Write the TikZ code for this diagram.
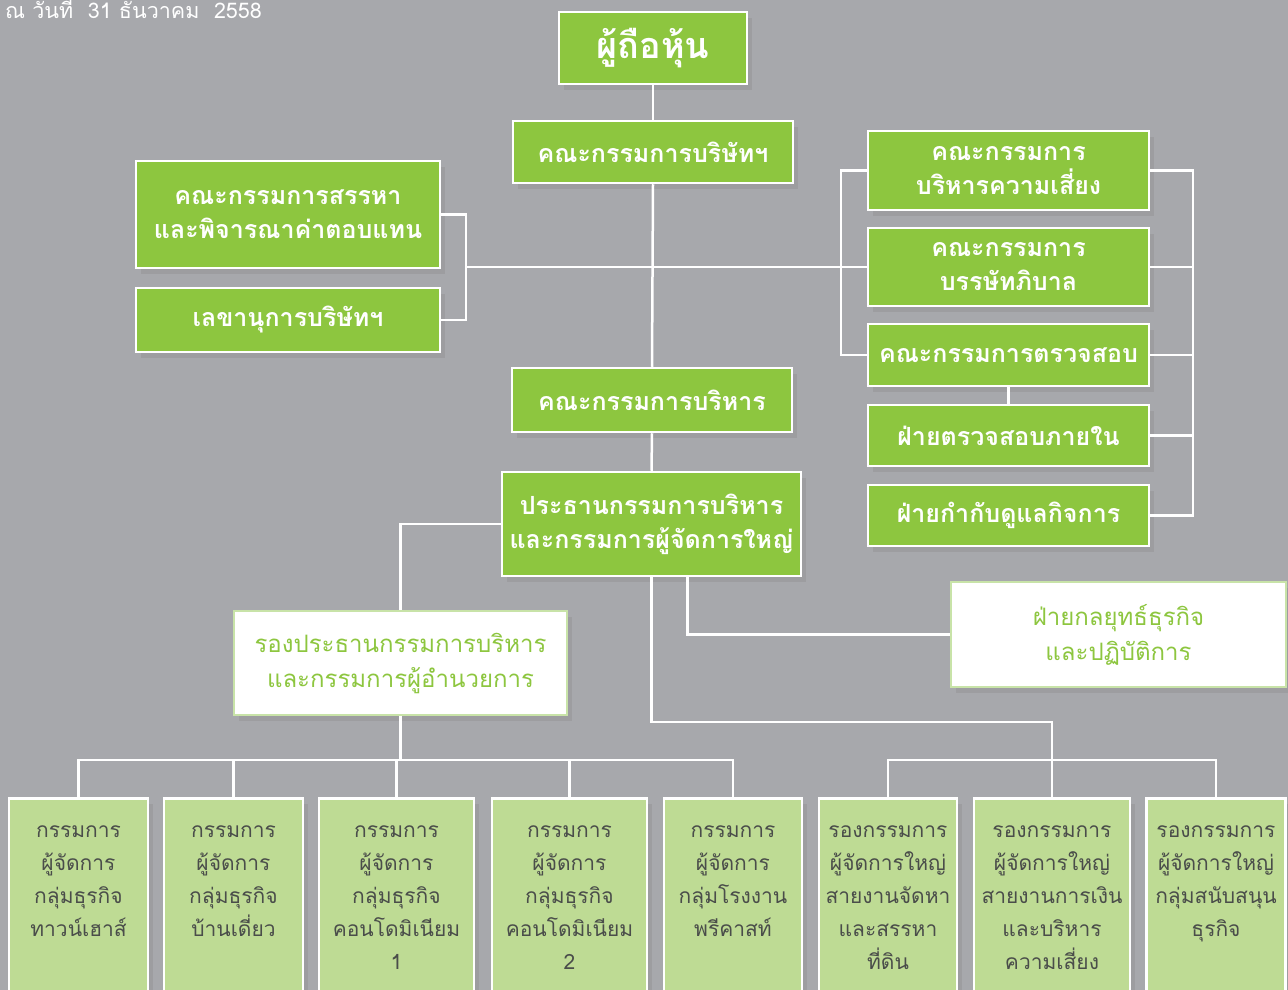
\documentclass[tikz,border=0pt]{standalone}
\usepackage{fontspec}
\usepackage{xcolor}
\usepackage{tikz}
\usetikzlibrary{shadows}
\newfontfamily\thaifont[Script=Thai]{Loma}
\definecolor{bggrey}{HTML}{A7A8AC}
\definecolor{boxgreen}{HTML}{8DC63F}
\definecolor{lowgreen}{HTML}{BEDB94}
\definecolor{edgegreen}{HTML}{C8E3A8}
\definecolor{textgrey}{HTML}{4A4D4A}

\begin{document}
\begin{tikzpicture}[x=1pt, y=-1pt,
% common options for the green boxes:
greenbox/.style = {draw=white, line width=2.5pt, fill=boxgreen, text=white, align=center,
            font=\thaifont\bfseries\fontsize{25}{34}\selectfont, inner sep=0,
            drop shadow={shadow xshift=5pt, shadow yshift=-6pt, opacity=0.25}},
% common options for the white boxes:
whitebox/.style = {draw=edgegreen, line width=2.5pt, fill=white, text=boxgreen, align=center,
            font=\thaifont\fontsize{24}{35}\selectfont, inner sep=0,
            drop shadow={shadow xshift=5pt, shadow yshift=-6pt, opacity=0.25}},
% common options for the boxes at the bottom:
lowbox/.style = {draw=white, line width=2.5pt, fill=lowgreen, text=textgrey, align=center,
            font=\thaifont\fontsize{21}{33}\selectfont, anchor=north, inner xsep=0,
            inner ysep=27pt, text depth=220pt,
            drop shadow={shadow xshift=5pt, shadow yshift=-6pt, opacity=0.25}},
wire/.style = {draw=white, line width=2.5pt}]
\useasboundingbox (0,0) rectangle (1288,990);
\fill[bggrey] (0,0) rectangle (1288,990);
\node[anchor=base west, text=white, inner sep=0, font=\thaifont\fontsize{21.5}{26}\selectfont] (T0) at (5,19) {ณ วันที่ \ 31 ธันวาคม \ 2558};
% middle column
\node[greenbox, minimum width=188pt, minimum height=72pt, font=\thaifont\bfseries\fontsize{36}{40}\selectfont] (M0) at (653,48) {ผู้ถือหุ้น};
\node[greenbox, minimum width=280pt, minimum height=62pt] (M1) at (653,152) {คณะกรรมการบริษัทฯ};
\node[greenbox, minimum width=280pt, minimum height=64pt] (M2) at (652,400) {คณะกรรมการบริหาร};
\node[greenbox, minimum width=299pt, minimum height=104pt] (M3) at (651.5,524) {ประธานกรรมการบริหาร\\และกรรมการผู้จัดการใหญ่};
% left side
\node[greenbox, minimum width=304pt, minimum height=107pt] (L1) at (288,214.5) {คณะกรรมการสรรหา\\และพิจารณาค่าตอบแทน};
\node[greenbox, minimum width=304pt, minimum height=64pt] (L2) at (288,320) {เลขานุการบริษัทฯ};
% right side
\node[greenbox, minimum width=281pt, minimum height=79pt] (R1) at (1008.5,170.5) {คณะกรรมการ\\บริหารความเสี่ยง};
\node[greenbox, minimum width=281pt, minimum height=78pt] (R2) at (1008.5,267) {คณะกรรมการ\\บรรษัทภิบาล};
\node[greenbox, minimum width=281pt, minimum height=62pt] (R3) at (1008.5,355) {คณะกรรมการตรวจสอบ};
\node[greenbox, minimum width=281pt, minimum height=61pt] (R4) at (1008.5,435.5) {ฝ่ายตรวจสอบภายใน};
\node[greenbox, minimum width=281pt, minimum height=61pt] (R5) at (1008.5,515.5) {ฝ่ายกำกับดูแลกิจการ};
% white boxes
\node[whitebox, minimum width=333pt, minimum height=104pt] (V0) at (400.5,663) {รองประธานกรรมการบริหาร\\และกรรมการผู้อำนวยการ};
\node[whitebox, minimum width=335pt, minimum height=105pt] (S0) at (1118.5,634.5) {ฝ่ายกลยุทธ์ธุรกิจ\\และปฏิบัติการ};
% bottom row
\node[lowbox, minimum width=139pt] (B1) at (78.5,797) {กรรมการ\\ผู้จัดการ\\กลุ่มธุรกิจ\\ทาวน์เฮาส์};
\node[lowbox, minimum width=139pt] (B2) at (233.5,797) {กรรมการ\\ผู้จัดการ\\กลุ่มธุรกิจ\\บ้านเดี่ยว};
\node[lowbox, minimum width=155pt] (B3) at (396.5,797) {กรรมการ\\ผู้จัดการ\\กลุ่มธุรกิจ\\คอนโดมิเนียม\\1};
\node[lowbox, minimum width=155pt] (B4) at (569.5,797) {กรรมการ\\ผู้จัดการ\\กลุ่มธุรกิจ\\คอนโดมิเนียม\\2};
\node[lowbox, minimum width=138pt] (B5) at (733,797) {กรรมการ\\ผู้จัดการ\\กลุ่มโรงงาน\\พรีคาสท์};
\node[lowbox, minimum width=138pt] (B6) at (888,797) {รองกรรมการ\\ผู้จัดการใหญ่\\สายงานจัดหา\\และสรรหา\\ที่ดิน};
\node[lowbox, minimum width=156pt] (B7) at (1052,797) {รองกรรมการ\\ผู้จัดการใหญ่\\สายงานการเงิน\\และบริหาร\\ความเสี่ยง};
\node[lowbox, minimum width=139pt] (B8) at (1216,797) {รองกรรมการ\\ผู้จัดการใหญ่\\กลุ่มสนับสนุน\\ธุรกิจ};
% joints of the lines
\coordinate (lk) at (466,267);
\coordinate (rk) at (841,267);
\coordinate (rb) at (1193,355);
\coordinate (mb) at (653,722);
\coordinate (bus) at (0,760);
% lines
\draw[wire] (M0.south) -- (M1.north);
\draw[wire] (M1.south) -- (M2.north);
\draw[wire] (L1.east) -| (lk) |- (L2.east);
\draw[wire] (lk) -- (R2.west);
\draw[wire] (R1.west) -| (rk) |- (R3.west);
\draw[wire] (R1.east) -| (rb) |- (R5.east);
\foreach \n in {2,3,4}
  \draw[wire] (R\n.east) -- (R\n.east -| rb);
\draw[wire] (R3.south) -- (R4.north);
\draw[wire] (M2.south) -- (M3.north);
\draw[wire] (M3.west) -| (V0.north);
\draw[wire] (V0.south) -- (V0.south |- bus);
\draw[wire] (B1.north) |- (B5.north |- bus) -- (B5.north);
\foreach \n in {2,3,4}
  \draw[wire] (B\n.north) -- (B\n.north |- bus);
\draw[wire] (M3.south) |- (B7.north |- mb) -- (B7.north);
\draw[wire] (B6.north) |- (B8.north |- bus) -- (B8.north);
\draw[wire] ([xshift=36pt]M3.south) |- (S0.west);
\end{tikzpicture}
\end{document}
